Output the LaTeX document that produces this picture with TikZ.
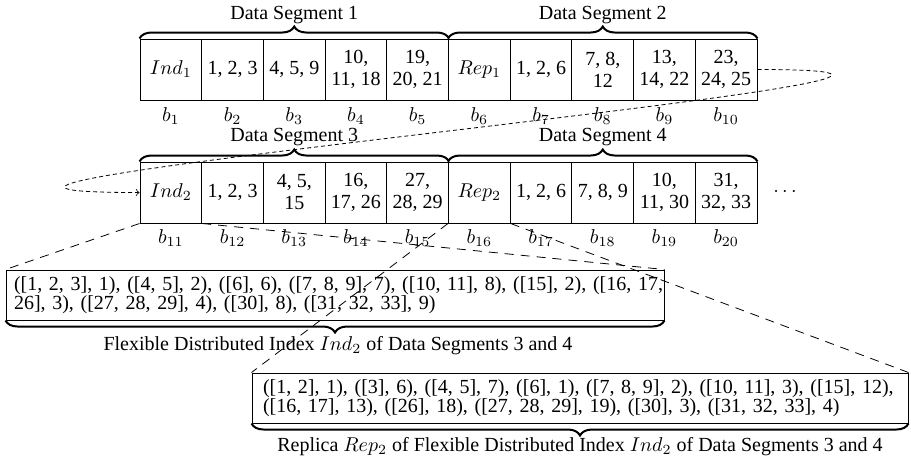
\documentclass[tikz,border=0pt]{standalone}
\usepackage{fontspec}
\setmainfont{Liberation Serif}
\usetikzlibrary{decorations.pathreplacing}
\begin{document}
\begin{tikzpicture}[x=0.5pt,y=-0.5pt,
 cell/.style={draw,line width=0.5pt,minimum width=30.85pt,minimum height=30.5pt,inner sep=0pt,align=center,font=\fontsize{10}{11}\selectfont},
 blabel/.style={inner sep=0pt},
 segbrace/.style={decorate,decoration={brace,amplitude=6pt},line width=1pt},
 seglabel/.style={inner sep=0pt},
 listbox/.style={draw,line width=0.5pt,minimum height=25pt,inner xsep=5.5pt,inner ysep=0pt,align=left,font=\fontsize{10}{9.5}\selectfont},
 zoomline/.style={dash pattern=on 4.5pt off 3.5pt,line width=0.4pt},
 wrapline/.style={dash pattern=on 2pt off 1.5pt,line width=0.4pt,->}
]
\useasboundingbox (0,0) rectangle (911,463);
% row 1
\node[cell] (c1) at (170.85,69.5) {$Ind_1$};
\node[cell] (c2) at (232.55,69.5) {1, 2, 3};
\node[cell] (c3) at (294.25,69.5) {4, 5, 9};
\node[cell] (c4) at (355.95,69.5) {10,\\11, 18};
\node[cell] (c5) at (417.65,69.5) {19,\\20, 21};
\node[cell] (c6) at (479.35,69.5) {$Rep_1$};
\node[cell] (c7) at (541.05,69.5) {1, 2, 6};
\node[cell] (c8) at (602.75,69.5) {7, 8,\\12};
\node[cell] (c9) at (664.45,69.5) {13,\\14, 22};
\node[cell] (c10) at (726.15,69.5) {23,\\24, 25};
% row 2
\node[cell] (c11) at (170.85,192.5) {$Ind_2$};
\node[cell] (c12) at (232.55,192.5) {1, 2, 3};
\node[cell] (c13) at (294.25,192.5) {4, 5,\\15};
\node[cell] (c14) at (355.95,192.5) {16,\\17, 26};
\node[cell] (c15) at (417.65,192.5) {27,\\28, 29};
\node[cell] (c16) at (479.35,192.5) {$Rep_2$};
\node[cell] (c17) at (541.05,192.5) {1, 2, 6};
\node[cell] (c18) at (602.75,192.5) {7, 8, 9};
\node[cell] (c19) at (664.45,192.5) {10,\\11, 30};
\node[cell] (c20) at (726.15,192.5) {31,\\32, 33};
\node (dots) at (785,192) {$\cdots$};
% block labels
\foreach \i/\x in {1/170.85,2/232.55,3/294.25,4/355.95,5/417.65,6/479.35,7/541.05,8/602.75,9/664.45,10/726.15}{
  \node[blabel] (lb\i) at (\x,116) {$b_{\i}$};
}
\foreach \i/\x in {11/170.85,12/232.55,13/294.25,14/355.95,15/417.65,16/479.35,17/541.05,18/602.75,19/664.45,20/726.15}{
  \node[blabel] (lb\i) at (\x,238) {$b_{\i}$};
}
% segment braces
\draw[segbrace] (c1.north west) -- (c5.north east);
\draw[segbrace] (c6.north west) -- (c10.north east);
\draw[segbrace] (c11.north west) -- (c15.north east);
\draw[segbrace] (c16.north west) -- (c20.north east);
\node[seglabel] (s1) at (294.25,15) {Data Segment 1};
\node[seglabel] (s2) at (602.75,15) {Data Segment 2};
\node[seglabel] (s3) at (294.25,137) {Data Segment 3};
\node[seglabel] (s4) at (602.75,137) {Data Segment 4};
% wrap-around
\draw[wrapline] (c10.east) .. controls +(410,0) and +(-410,0) .. (c11.west);
% expanded boxes
\node[listbox,inner xsep=4pt,text width=321pt,minimum width=329pt] (ind) at (335,295)
 {\mbox{([1, 2, 3], 1), ([4, 5], 2), ([6], 6), ([7, 8, 9], 7), ([10, 11], 8), ([15], 2), ([16, 17,}\\\mbox{26], 3), ([27, 28, 29], 4), ([30], 8), ([31, 32, 33], 9)}};
\node[listbox,text width=317pt,minimum width=328pt] (rep) at (580,398)
 {\mbox{([1, 2], 1), ([3], 6), ([4, 5], 7), ([6], 1), ([7, 8, 9], 2), ([10, 11], 3), ([15], 12),}\\\mbox{([16, 17], 13), ([26], 18), ([27, 28, 29], 19), ([30], 3), ([31, 32, 33], 4)}};
\draw[segbrace] (ind.south east) -- (ind.south west);
\draw[segbrace] (rep.south east) -- (rep.south west);
\node[seglabel] (capi) at (338,346) {Flexible Distributed Index $Ind_2$ of Data Segments 3 and 4};
\node[seglabel] (capr) at (580,447) {Replica $Rep_2$ of Flexible Distributed Index $Ind_2$ of Data Segments 3 and 4};
% zoom lines
\draw[zoomline] (c11.south west) -- (ind.north west);
\draw[zoomline] (c11.south east) -- (ind.north east);
\draw[zoomline] (c16.south west) -- (rep.north west);
\draw[zoomline] (c16.south east) -- (rep.north east);
\end{tikzpicture}
\end{document}
